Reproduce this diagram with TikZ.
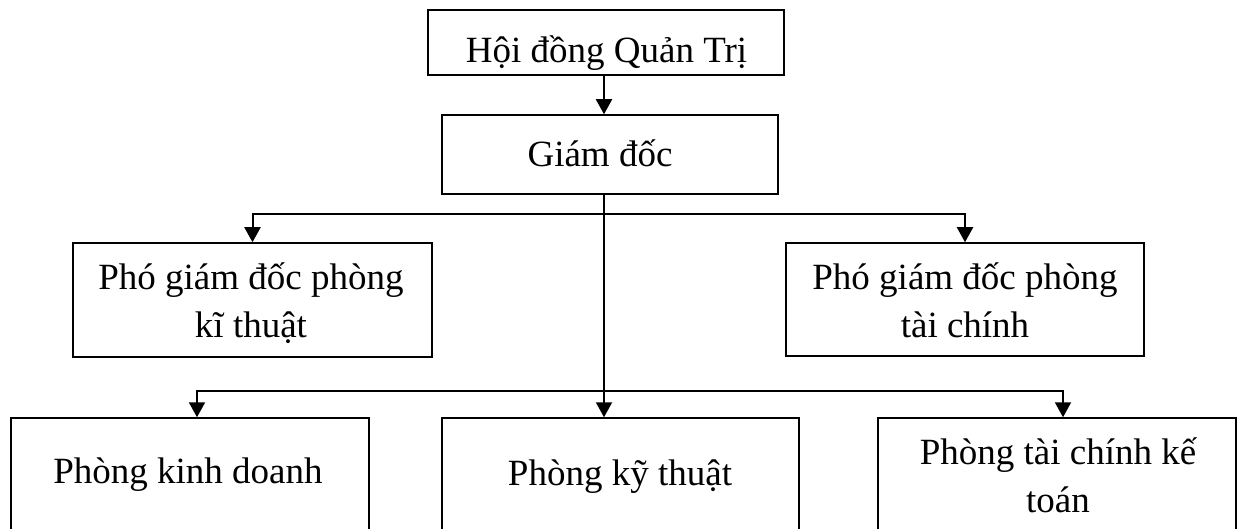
\documentclass[tikz,border=0pt]{standalone}
\usepackage{fontspec}
\setmainfont{Liberation Serif}
\usetikzlibrary{arrows.meta}
\begin{document}
\begin{tikzpicture}[x=1pt,y=-1pt,
  box/.style={draw,line width=1.5pt,inner sep=0pt},
  lbl/.style={anchor=base,inner sep=0pt,align=center,font=\fontsize{37}{48}\selectfont},
  conn/.style={line width=2pt,-{Triangle[length=15pt,width=16pt]}},
  plain/.style={line width=2pt}]
\useasboundingbox (0,0) rectangle (1241,529);
\clip (0,0) rectangle (1241,529);
% boxes
\node[box,minimum width=356pt,minimum height=65pt] (hdqt) at (606,42.5) {};
\node[box,minimum width=336pt,minimum height=79pt] (gd) at (610,154.5) {};
\node[box,minimum width=359pt,minimum height=114pt] (pkt) at (252.5,300) {};
\node[box,minimum width=358pt,minimum height=113pt] (ptc) at (965,299.5) {};
\node[box,minimum width=358pt,minimum height=142pt] (pkd) at (190,489) {};
\node[box,minimum width=357pt,minimum height=142pt] (pkyt) at (620.5,489) {};
\node[box,minimum width=358pt,minimum height=142pt] (ptckt) at (1057,489) {};
% texts (base = baseline of last line)
\node[lbl] (t1) at (606.5,63) {Hội đồng Quản Trị};
\node[lbl] (t2) at (600,167) {Giám đốc};
\node[lbl] (t3) at (251,337) {Phó giám đốc phòng\\kĩ thuật};
\node[lbl] (t4) at (965,337) {Phó giám đốc phòng\\tài chính};
\node[lbl] (t5) at (188,483) {Phòng kinh doanh};
\node[lbl] (t6) at (620,485) {Phòng kỹ thuật};
\node[lbl] (t7) at (1058,512) {Phòng tài chính kế\\toán};
% connector helpers
\coordinate (spine) at (604,0);
\coordinate (j1) at (604,214);
\coordinate (j2) at (604,391);
\coordinate (pkdin) at ([xshift=7pt]pkd.north);
\coordinate (ptcktin) at ([xshift=6pt]ptckt.north);
% connectors
\draw[conn] (hdqt.south -| spine) -- (gd.north -| spine);
\draw[conn] (gd.south -| spine) -- (pkyt.north -| spine);
\draw[conn] (j1) -| (pkt.north);
\draw[conn] (j1) -| (ptc.north);
\draw[conn] (j2) -| (pkdin);
\draw[conn] (j2) -| (ptcktin);
\end{tikzpicture}
\end{document}
